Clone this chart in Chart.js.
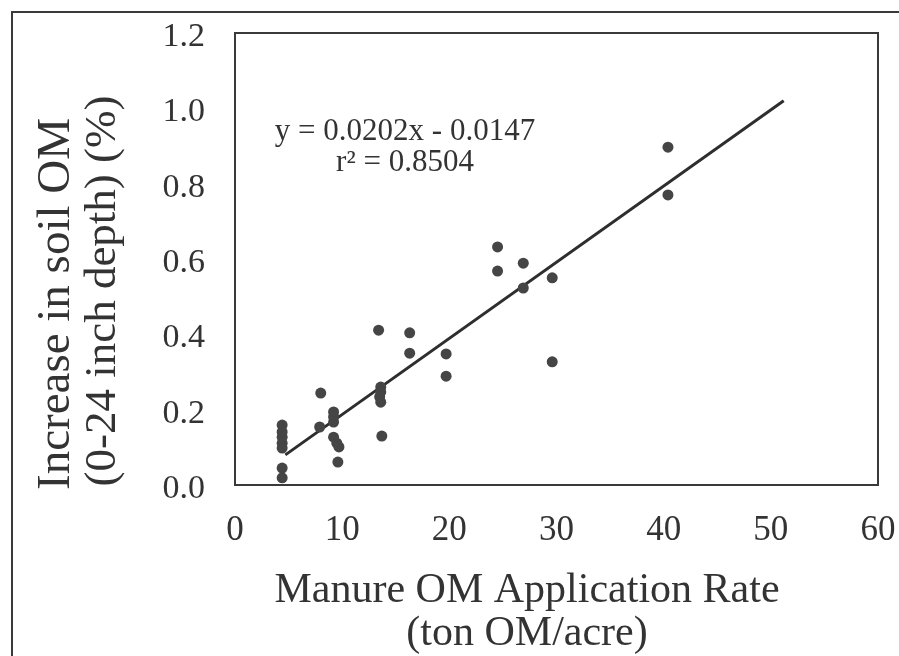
<!DOCTYPE html>
<html>
<head>
<meta charset="utf-8">
<script src="https://cdn.jsdelivr.net/npm/chart.js@4/dist/chart.umd.min.js"></script>
<style>
    body { margin: 0; background: #fff; }
    #wrap { position: relative; width: 899px; height: 656px; }
</style>
</head>
<body>
<div id="wrap"><canvas id="soil-chart"></canvas></div>
<script>
// manure OM rate (ton OM/acre) vs increase in soil OM (%)
const rateValues = [4.4, 4.4, 4.4, 4.4, 4.4, 4.4, 4.4,
    8.0, 7.9, 9.2, 9.2, 9.2, 9.2, 9.5, 9.7, 9.6,
    13.4, 13.6, 13.6, 13.5, 13.6, 13.7,
    16.3, 16.3, 19.7, 19.7,
    24.5, 24.5, 26.9, 26.9, 29.6, 29.6,
    40.4, 40.4]
const omIncrease = [0.159, 0.141, 0.127, 0.111, 0.098, 0.045, 0.019,
    0.244, 0.154, 0.194, 0.181, 0.167, 0.127, 0.111, 0.101, 0.061,
    0.411, 0.260, 0.247, 0.234, 0.220, 0.130,
    0.404, 0.350, 0.348, 0.289,
    0.632, 0.568, 0.589, 0.523, 0.550, 0.327,
    0.897, 0.770]

// ends of the fitted line as drawn
const fitX = [4.7, 51.2]
const fitY = [0.080, 1.020]

const xTicks = [0, 10, 20, 30, 40, 50, 60]
const yTicks = [0, 0.2, 0.4, 0.6, 0.8, 1.0, 1.2]

const equationLines = ['y = 0.0202x - 0.0147', 'r\u00B2 = 0.8504']
const xTitleLines = ['Manure OM Application Rate', '(ton OM/acre)']
const yTitleLines = ['Increase in soil OM', '(0-24 inch depth) (%)']

const serif = '"Liberation Serif", "Times New Roman", serif'
const ink = '#333'

const figureText = {
    id: 'figureText',
    afterDraw(chart) {
        const ctx = chart.ctx
        const area = chart.chartArea
        ctx.save()
        // box round the plot
        ctx.strokeStyle = '#3a3a3a'
        ctx.lineWidth = 2
        ctx.strokeRect(area.left, area.top, area.right - area.left, area.bottom - area.top)
        // outer frame (left + top)
        ctx.beginPath()
        ctx.moveTo(12, 656)
        ctx.lineTo(12, 12)
        ctx.lineTo(899, 12)
        ctx.stroke()

        ctx.fillStyle = ink
        ctx.textAlign = 'center'
        ctx.textBaseline = 'middle'

        ctx.font = '31px ' + serif
        ctx.fillText(equationLines[0], 405, 132)
        ctx.fillText(equationLines[1], 405, 163)

        ctx.font = '42px ' + serif
        ctx.fillText(xTitleLines[0], 527, 591)
        ctx.fillText(xTitleLines[1], 527, 634)

        ctx.save()
        ctx.translate(57, 304)
        ctx.rotate(-Math.PI / 2)
        ctx.font = '47px ' + serif
        ctx.fillText(yTitleLines[0], 0, 0)
        ctx.restore()
        ctx.save()
        ctx.translate(103, 291)
        ctx.rotate(-Math.PI / 2)
        ctx.font = '45px ' + serif
        ctx.fillText(yTitleLines[1], 0, 0)
        ctx.restore()

        ctx.restore()
    }
}

// keep tick labels from pushing the plot box around
const noOverflow = (scale) => {
    scale.paddingTop = 0
    scale.paddingBottom = 0
    scale.paddingLeft = 0
    scale.paddingRight = 0
}

const ctx = document.getElementById('soil-chart').getContext('2d')

const config = {
    type: 'scatter',
    data: {
        datasets: [
            {
                label: 'Observed',
                data: rateValues.map((x, i) => ({ x: x, y: omIncrease[i] })),
                backgroundColor: '#454545',
                borderWidth: 0,
                pointRadius: 5.5,
                order: 1
            },
            {
                label: 'Fit',
                type: 'line',
                data: fitX.map((x, i) => ({ x: x, y: fitY[i] })),
                borderColor: '#2e2e2e',
                borderWidth: 3,
                pointRadius: 0,
                fill: false,
                order: 2
            }
        ]
    },
    options: {
        responsive: true,
        maintainAspectRatio: false,
        animation: false,
        layout: {
            padding: { left: 0, top: 33, right: 21, bottom: 0 }
        },
        plugins: {
            legend: { display: false },
            tooltip: { enabled: false },
            title: { display: false }
        },
        scales: {
            x: {
                type: 'linear',
                min: 0,
                max: 60,
                grid: { display: false, drawTicks: false },
                border: { display: false },
                afterFit(scale) {
                    scale.height = 171
                    noOverflow(scale)
                },
                afterBuildTicks(scale) { scale.ticks = xTicks.map(v => ({ value: v })) },
                ticks: {
                    padding: 25,
                    color: ink,
                    font: { family: serif, size: 35 }
                }
            },
            y: {
                type: 'linear',
                min: 0,
                max: 1.2,
                grid: { display: false, drawTicks: false },
                border: { display: false },
                afterFit(scale) {
                    scale.width = 235
                    noOverflow(scale)
                },
                afterBuildTicks(scale) { scale.ticks = yTicks.map(v => ({ value: v })) },
                ticks: {
                    padding: 30,
                    labelOffset: 4,
                    color: ink,
                    font: { family: serif, size: 34 },
                    callback: v => v.toFixed(1)
                }
            }
        }
    },
    plugins: [figureText]
}

window.soilChart = new Chart(ctx, config)
</script>
</body>
</html>
